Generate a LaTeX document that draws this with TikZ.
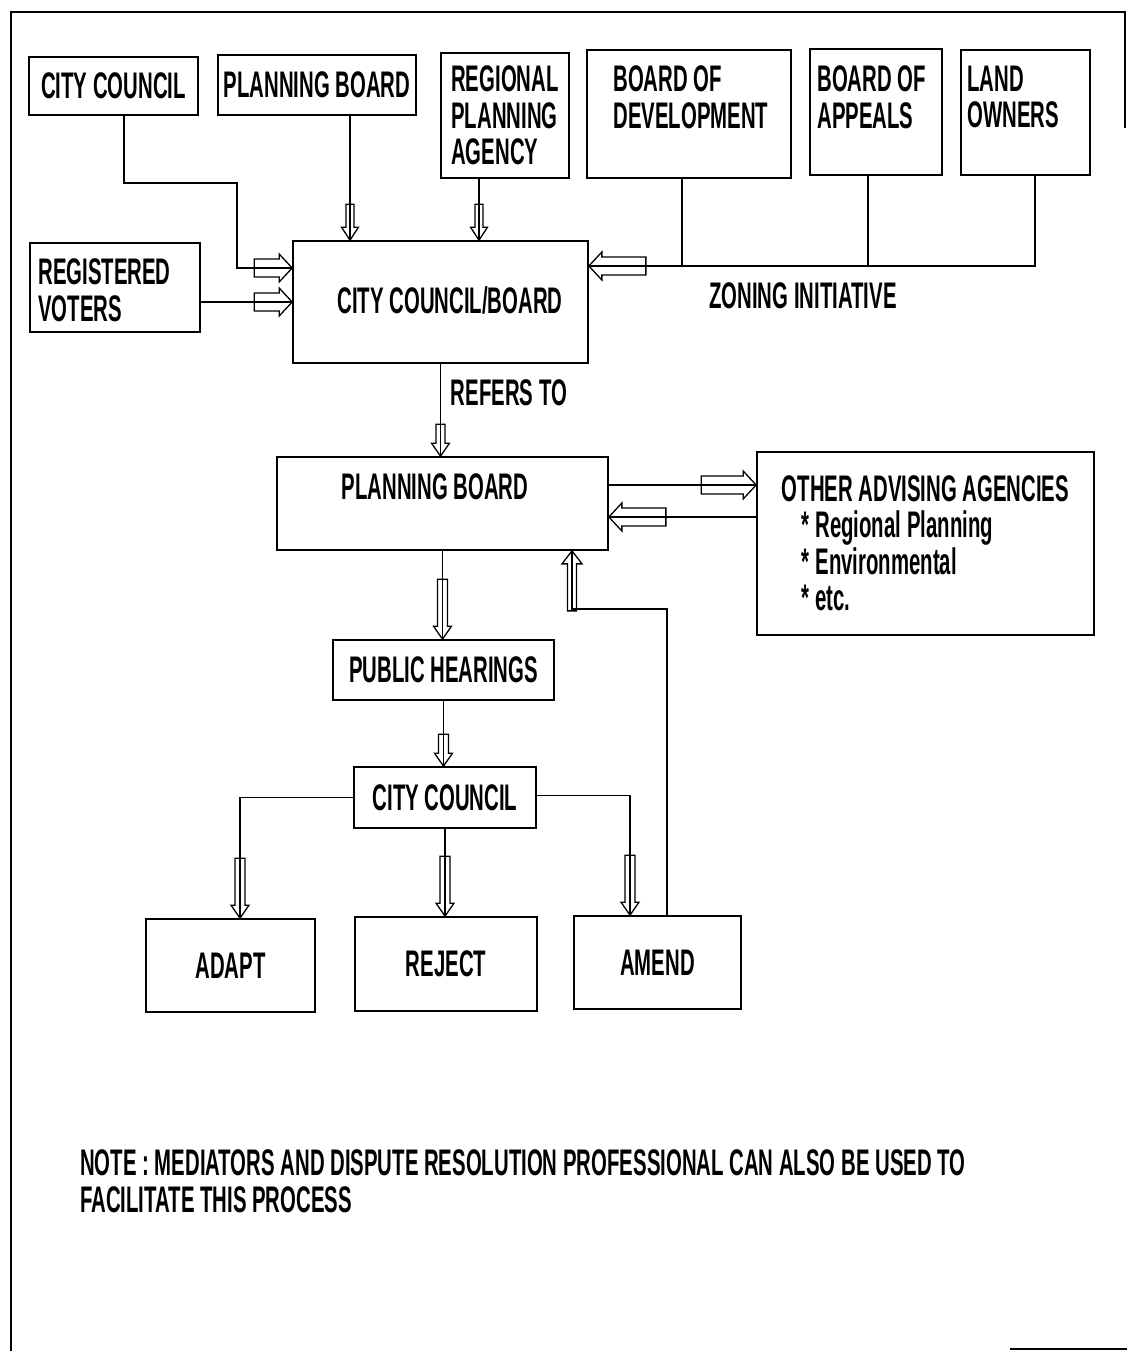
\documentclass[tikz,border=0pt]{standalone}
\usepackage{fontspec}
\setmainfont{Liberation Sans}[FakeStretch=0.55]
\usetikzlibrary{positioning,decorations.markings}

\begin{document}
\begin{tikzpicture}[x=1pt,y=-1pt,
			every node/.style={
				font=\bfseries\fontsize{37}{36.5}\selectfont,
				inner sep=0pt,
				align=left
			},
			box/.style={draw, line width=1.7pt},
			link/.style={line width=1.4pt},
			harrow/.style n args={3}{link, preaction={decorate, decoration={markings,
				mark=at position 1 with {\draw[line width=1.3pt, fill=white]
					(0,0) -- (-13,#3) -- (-13,#2) -- (-#1,#2) -- (-#1,-#2) -- (-13,-#2) -- (-13,-#3) -- cycle;}}}}]
			
			\useasboundingbox (0,0) rectangle (1127,1351);
			
			% frame
			\draw[line width=2.5pt] (11,1351) -- (11,12) -- (1125,12) -- (1125,128);
			\draw[line width=2pt] (1010,1349) -- (1127,1349);
			
			% top row
			\node[box, minimum width=169, minimum height=58] (cc) at (113.5,86) {CITY COUNCIL};
			
			\node[box, minimum width=198, minimum height=60] (pb) at (317,85) {PLANNING BOARD};
			
			\node[box, minimum width=128, minimum height=125] (rpa) at (505,115.5) {REGIONAL\\PLANNING\\AGENCY};
			
			\node[box, minimum width=204, minimum height=128] (bdev) at (689,114) {};
			\node(bdevt)[below right=16.5pt and 27pt of bdev.north west]{BOARD OF\\DEVELOPMENT};
			
			\node[box, minimum width=132, minimum height=126] (bapp) at (876,112) {};
			\node(bappt)[below right=17.5pt and 8pt of bapp.north west]{BOARD OF\\APPEALS};
			
			\node[box, minimum width=129, minimum height=125] (land) at (1025.5,112.5) {};
			\node(landt)[below right=16.5pt and 7pt of land.north west]{LAND\\OWNERS};
			
			% second row
			\node[box, minimum width=170, minimum height=89] (voters) at (115,287.5) {};
			\node(voterst)[below right=16.5pt and 9pt of voters.north west]{REGISTERED\\VOTERS};
			
			\node[box, minimum width=295, minimum height=122] (ccb) at (440.5,302) {};
			\node(ccbt) at (450,300) {CITY COUNCIL/BOARD};
			
			\node(zone) at (803,296) {ZONING INITIATIVE};
			
			\node(refers) at (509,393) {REFERS TO};
			
			% planning board and agencies
			\node[box, minimum width=331, minimum height=93] (pbm) at (442.5,503.5) {};
			\node(pbmt) at (435,487) {PLANNING BOARD};
			
			\node[box, minimum width=337, minimum height=183] (oaa) at (925.5,543.5) {OTHER ADVISING AGENCIES\\\hspace*{20pt}* Regional Planning\\\hspace*{20pt}* Environmental\\\hspace*{20pt}* etc.};
			
			\node[box, minimum width=221, minimum height=60] (ph) at (443.5,670) {PUBLIC HEARINGS};
			
			\node[box, minimum width=182, minimum height=61] (ccl) at (445,797.5) {CITY COUNCIL};
			
			% outcomes
			\node[box, minimum width=169, minimum height=93] (adapt) at (230.5,965.5) {ADAPT};
			
			\node[box, minimum width=182, minimum height=94] (reject) at (446,964) {REJECT};
			
			\node[box, minimum width=167, minimum height=93] (amend) at (657.5,962.5) {AMEND};
			
			\node(note)[anchor=west] at (80,1181) {NOTE : MEDIATORS AND DISPUTE RESOLUTION PROFESSIONAL CAN ALSO BE USED TO\\FACILITATE THIS PROCESS};
			
			% connectors
			\coordinate (zbus) at (0,266);
			
			\draw[harrow={38}{9}{14}] ([xshift=10.5pt]cc.south) -- ++(0,67) -- ++(113,0) |- ([yshift=34pt]ccb.west);
			
			\draw[harrow={38}{9}{14}] (voters.east |- ccb.west) -- (ccb.west);
			
			\draw[harrow={36}{4}{8.5}] ([xshift=33pt]pb.south) -- ([xshift=33pt]pb.south |- ccb.north);
			
			\draw[harrow={36}{4}{8.5}] ([xshift=-26pt]rpa.south) -- ([xshift=-26pt]rpa.south |- ccb.north);
			
			\draw[harrow={57}{9}{14}] ([xshift=9.5pt]land.south) |- (ccb.east |- zbus);
			
			\draw[link] ([xshift=-7pt]bdev.south) -- ([xshift=-7pt]bdev.south |- zbus);
			
			\draw[link] ([xshift=-8pt]bapp.south) -- ([xshift=-8pt]bapp.south |- zbus);
			
			\draw[harrow={32}{4.5}{9}] (ccb.south) -- (ccb.south |- pbm.north);
			
			\draw[harrow={55}{9}{14}] ([yshift=18.5pt]pbm.east) -- ([yshift=18.5pt]pbm.east -| oaa.west);
			
			\draw[harrow={57}{9}{14}] ([yshift=-13.5pt]pbm.east -| oaa.west) -- ([yshift=-13.5pt]pbm.east);
			
			\draw[harrow={60}{5}{9}] (pbm.south) -- (pbm.south |- ph.north);
			
			\draw[harrow={32}{5}{9}] (ph.south) -- (ph.south |- ccl.north);
			
			\draw[harrow={60}{5}{9}] (ccl.west) -| ([xshift=9.5pt]adapt.north);
			
			\draw[harrow={60}{5}{9}] (ccl.south) -- (ccl.south |- reject.north);
			
			\draw[harrow={60}{5}{9}] ([yshift=2pt]ccl.east) -| ([xshift=-27.5pt]amend.north);
			
			\draw[harrow={60}{4.5}{10}] ([xshift=9.5pt]amend.north) -- ++(0,-306) -| ([xshift=129.5pt]pbm.south);
			
		\end{tikzpicture}
\end{document}
